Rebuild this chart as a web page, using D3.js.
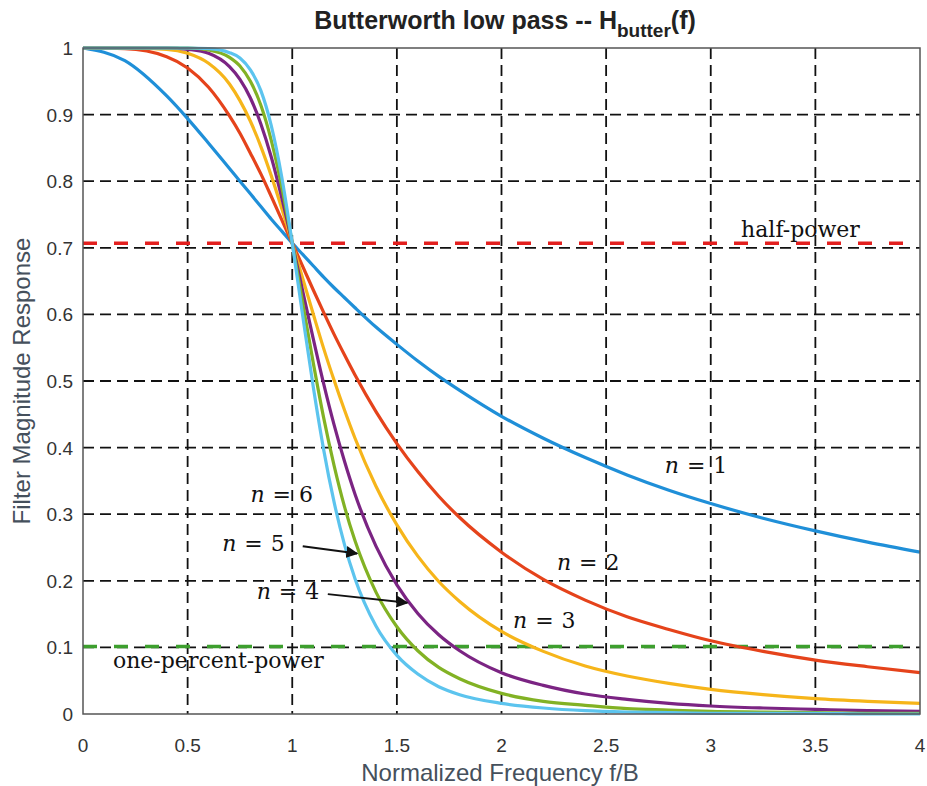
<!DOCTYPE html>
<html>
<head>
<meta charset="utf-8">
<script src="https://cdn.jsdelivr.net/npm/d3@7"></script>
<style>
  body { margin: 0; background: #fff; }
  svg { display: block; }
  .tick-label { font-family: "Liberation Sans", Arial, sans-serif; font-size: 19px; fill: #333; }
  .axis-title { font-family: "Liberation Sans", Arial, sans-serif; font-size: 24px; fill: #45505c; }
  .note { font-family: "DejaVu Serif", "Liberation Serif", serif; font-size: 22px; fill: #111; }
</style>
</head>
<body>
<div id="chart"></div>
<script>
var freqs = [0, 0.2, 0.4, 0.5, 0.6, 0.7, 0.75, 0.8, 0.85, 0.9, 0.95, 1.0, 1.05, 1.1, 1.15, 1.2, 1.25, 1.3,
             1.4, 1.5, 1.6, 1.7, 1.8, 2.0, 2.2, 2.4, 2.6, 2.8, 3.0, 3.25, 3.5, 3.75, 4.0];

var orders = [1, 2, 3, 4, 5, 6];
var colors = ['#1f8fd8', '#e5431b', '#f6b51a', '#7b2483', '#82b224', '#5cc4ee'];

var magN1 = [1, 0.981, 0.928, 0.894, 0.857, 0.819, 0.800, 0.781, 0.762, 0.743, 0.725, 0.707, 0.690, 0.673, 0.656, 0.640, 0.625, 0.610,
             0.581, 0.555, 0.530, 0.507, 0.486, 0.447, 0.414, 0.385, 0.359, 0.336, 0.316, 0.294, 0.275, 0.258, 0.243];
var magN2 = [1, 0.999, 0.987, 0.970, 0.941, 0.898, 0.872, 0.842, 0.811, 0.777, 0.742, 0.707, 0.672, 0.637, 0.603, 0.570, 0.539, 0.509,
             0.454, 0.406, 0.364, 0.327, 0.295, 0.243, 0.202, 0.171, 0.146, 0.127, 0.110, 0.094, 0.081, 0.071, 0.062];
var magN3 = [1, 1.000, 0.998, 0.992, 0.977, 0.946, 0.921, 0.890, 0.852, 0.808, 0.759, 0.707, 0.654, 0.601, 0.549, 0.501, 0.456, 0.414,
             0.342, 0.284, 0.237, 0.199, 0.169, 0.124, 0.094, 0.072, 0.057, 0.046, 0.037, 0.029, 0.023, 0.019, 0.016];
var magN4 = [1, 1.000, 1.000, 0.998, 0.992, 0.972, 0.953, 0.925, 0.886, 0.836, 0.775, 0.707, 0.635, 0.564, 0.496, 0.434, 0.379, 0.330,
             0.252, 0.194, 0.151, 0.119, 0.095, 0.062, 0.043, 0.030, 0.022, 0.016, 0.012, 0.009, 0.007, 0.005, 0.004];
var magN5 = [1, 1.000, 1.000, 1.000, 0.997, 0.986, 0.973, 0.950, 0.914, 0.861, 0.791, 0.707, 0.617, 0.528, 0.445, 0.373, 0.311, 0.260,
             0.183, 0.131, 0.095, 0.070, 0.053, 0.031, 0.019, 0.013, 0.008, 0.006, 0.004, 0.003, 0.002, 0.001, 0.001];
var magN6 = [1, 1.000, 1.000, 1.000, 0.999, 0.993, 0.985, 0.967, 0.936, 0.883, 0.806, 0.707, 0.598, 0.492, 0.397, 0.318, 0.254, 0.203,
             0.132, 0.088, 0.060, 0.041, 0.029, 0.016, 0.009, 0.005, 0.003, 0.002, 0.001, 0.001, 0.001, 0.000, 0.000];

var xTicks = [0, 0.5, 1, 1.5, 2, 2.5, 3, 3.5, 4];
var yTicks = [0, 0.1, 0.2, 0.3, 0.4, 0.5, 0.6, 0.7, 0.8, 0.9, 1];

var halfPower = 0.707;
var onePercentPower = 0.1;

// text notes: [label, n-order or null, x, y (baseline)]
var notes = [
    ['half-power', null, 3.145, 0.716],
    ['one-percent-power', null, 0.143, 0.069],
    ['1', 1, 2.78, 0.362],
    ['2', 2, 2.265, 0.216],
    ['3', 3, 2.055, 0.129],
    ['4', 4, 0.83, 0.173],
    ['5', 5, 0.665, 0.244],
    ['6', 6, 0.80, 0.318]
];
// arrows from label to curve: [x1, y1, x2, y2]
var arrows = [
    [1.05, 0.252, 1.31, 0.241],
    [1.17, 0.180, 1.55, 0.167]
];

var width = 927, height = 786;
var margin = {top: 48, right: 7, bottom: 72, left: 83};

var svg = d3.select('#chart').append('svg')
    .attr('width', width)
    .attr('height', height);

var x = d3.scaleLinear().domain([0, 4]).range([margin.left, width - margin.right]);
var y = d3.scaleLinear().domain([0, 1]).range([height - margin.bottom, margin.top]);

svg.append('defs').append('marker')
    .attr('id', 'arrowhead')
    .attr('viewBox', '0 0 10 10')
    .attr('refX', 9).attr('refY', 5)
    .attr('markerWidth', 6).attr('markerHeight', 6)
    .attr('markerUnits', 'strokeWidth')
    .attr('orient', 'auto')
    .append('path')
    .attr('d', 'M0,0 L10,5 L0,10 Z')
    .attr('fill', '#111');

// title
var title = svg.append('text')
    .attr('x', 505).attr('y', 29)
    .attr('text-anchor', 'middle')
    .style('font-family', '"Liberation Sans", Arial, sans-serif')
    .style('font-weight', 'bold')
    .style('font-size', '25px')
    .style('fill', '#222');
title.append('tspan').text('Butterworth low pass -- H');
title.append('tspan').attr('dy', 8).style('font-size', '19px').text('butter');
title.append('tspan').attr('dy', -8).text('(f)');

// grid
var grid = svg.append('g').attr('class', 'grid')
    .attr('stroke', '#111').attr('stroke-width', 1.8).attr('stroke-dasharray', '11,6');

grid.selectAll('line.v')
    .data(xTicks.slice(1, -1))
    .enter().append('line')
    .attr('class', 'v')
    .attr('x1', function (d) { return x(d); })
    .attr('x2', function (d) { return x(d); })
    .attr('y1', y(1)).attr('y2', y(0));

grid.selectAll('line.h')
    .data(yTicks.slice(1, -1))
    .enter().append('line')
    .attr('class', 'h')
    .attr('x1', x(0)).attr('x2', x(4))
    .attr('y1', function (d) { return y(d); })
    .attr('y2', function (d) { return y(d); });

// reference levels
svg.append('line')
    .attr('x1', x(0)).attr('x2', x(4))
    .attr('y1', y(halfPower)).attr('y2', y(halfPower))
    .attr('stroke', '#e3201f').attr('stroke-width', 3.5)
    .attr('stroke-dasharray', '14,17');
svg.append('line')
    .attr('x1', x(0)).attr('x2', x(4))
    .attr('y1', y(onePercentPower) - 1).attr('y2', y(onePercentPower) - 1)
    .attr('stroke', '#3d9f2e').attr('stroke-width', 3.5)
    .attr('stroke-dasharray', '14,17');

// curves
var series = [magN1, magN2, magN3, magN4, magN5, magN6];
var line = d3.line()
    .x(function (d) { return x(d[0]); })
    .y(function (d) { return y(d[1]); })
    .curve(d3.curveMonotoneX);

svg.append('g').attr('class', 'curves')
    .selectAll('path')
    .data(series)
    .enter().append('path')
    .attr('d', function (vals) { return line(vals.map(function (v, i) { return [freqs[i], v]; })); })
    .attr('fill', 'none')
    .attr('stroke', function (d, i) { return colors[i]; })
    .attr('stroke-width', 3.2);

// frame
svg.append('rect')
    .attr('x', x(0)).attr('y', y(1))
    .attr('width', x(4) - x(0)).attr('height', y(0) - y(1))
    .attr('fill', 'none')
    .attr('stroke', '#555').attr('stroke-width', 1.5);

// tick labels
svg.selectAll('text.xtick')
    .data(xTicks)
    .enter().append('text')
    .attr('class', 'tick-label xtick')
    .attr('x', function (d) { return x(d); })
    .attr('y', y(0) + 38)
    .attr('text-anchor', 'middle')
    .text(function (d) { return d; });

svg.selectAll('text.ytick')
    .data(yTicks)
    .enter().append('text')
    .attr('class', 'tick-label ytick')
    .attr('x', x(0) - 10)
    .attr('y', function (d) { return y(d) + 7; })
    .attr('text-anchor', 'end')
    .text(function (d) { return d; });

// axis titles
svg.append('text')
    .attr('class', 'axis-title')
    .attr('x', 500).attr('y', 781)
    .attr('text-anchor', 'middle')
    .text('Normalized Frequency f/B');

svg.append('text')
    .attr('class', 'axis-title')
    .attr('transform', 'translate(30,' + y(0.5) + ') rotate(-90)')
    .attr('text-anchor', 'middle')
    .text('Filter Magnitude Response');

// notes
notes.forEach(function (n) {
    var t = svg.append('text')
        .attr('class', 'note')
        .attr('x', x(n[2]))
        .attr('y', y(n[3]));
    if (n[1] === null) {
        t.text(n[0]);
    } else {
        t.append('tspan').style('font-style', 'italic').text('n');
        t.append('tspan').attr('dx', 8).text('=');
        t.append('tspan').attr('dx', 8).text(n[0]);
    }
});

svg.selectAll('line.arrow')
    .data(arrows)
    .enter().append('line')
    .attr('class', 'arrow')
    .attr('x1', function (d) { return x(d[0]); })
    .attr('y1', function (d) { return y(d[1]); })
    .attr('x2', function (d) { return x(d[2]); })
    .attr('y2', function (d) { return y(d[3]); })
    .attr('stroke', '#111').attr('stroke-width', 2)
    .attr('marker-end', 'url(#arrowhead)');
</script>
</body>
</html>
